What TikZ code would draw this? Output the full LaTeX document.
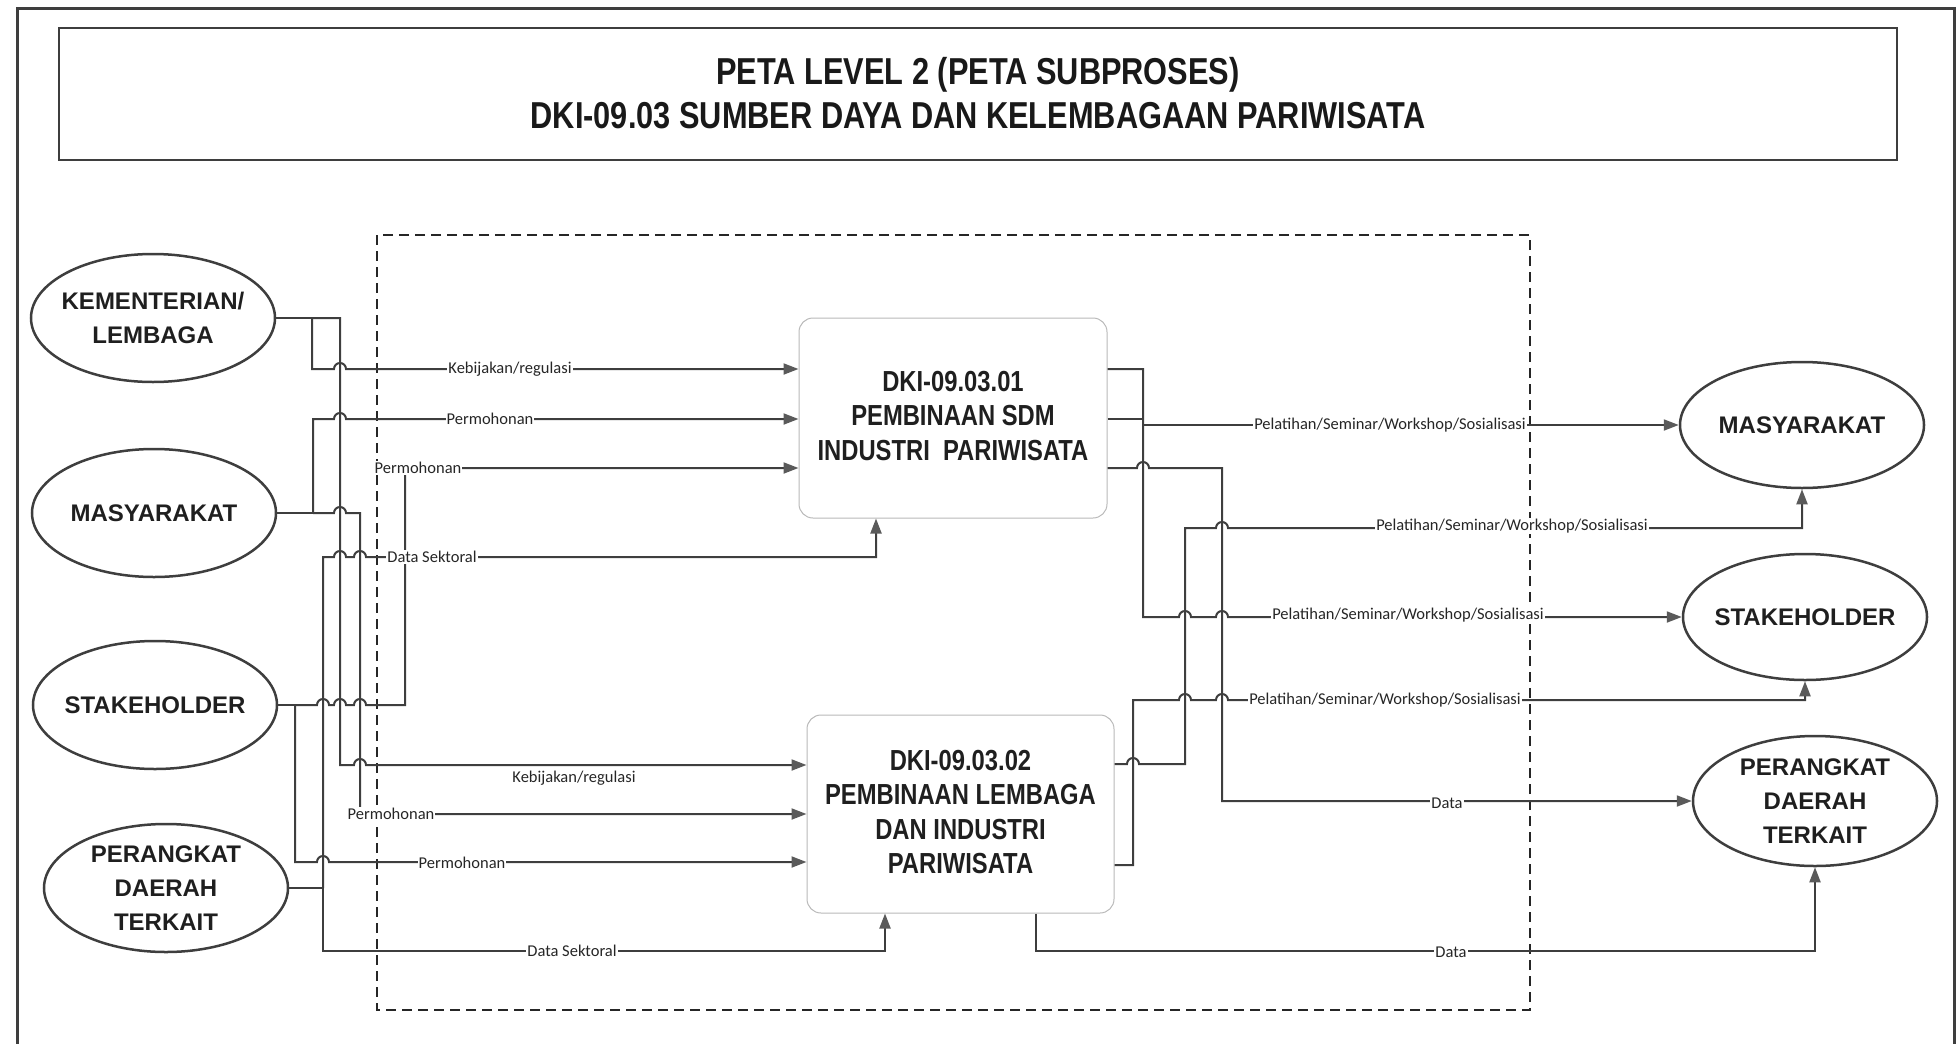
\documentclass[tikz,border=0pt]{standalone}
\usepackage{fontspec}
\setmainfont{Liberation Sans}
\newfontfamily\narrowfont[FakeStretch=0.82]{Liberation Sans}
\newfontfamily\labfont{Carlito}
\usetikzlibrary{shapes.geometric,arrows.meta}
\definecolor{lc}{HTML}{3E3E3E}
\definecolor{ac}{HTML}{5A5A5A}
\begin{document}
\begin{tikzpicture}[x=1pt,y=-1pt,
  conn/.style={line width=2pt,draw=lc},
  arr/.style={conn,-{Triangle[length=15pt,width=11pt,color=ac]}},
  ent/.style={ellipse,draw=lc,line width=2.5pt,minimum width=244pt,minimum height=128pt,inner sep=0pt},
  enttxt/.style={align=center,inner sep=0pt,font=\bfseries\fontsize{24}{34}\selectfont,text=black!88},
  proc/.style={draw=gray!55,line width=1pt,rounded corners=14pt,inner sep=0pt},
  proctxt/.style={align=center,inner sep=0pt,font=\narrowfont\bfseries\fontsize{29}{34.5}\selectfont,text=black!88},
  lab/.style={fill=white,inner sep=1pt,font=\labfont\fontsize{16.5}{18}\selectfont,text=black!85},
]
\useasboundingbox (0,0) rectangle (1957,1044);
% outer frame
\draw[line width=3pt,draw=lc] (17,1044) -- (17,8) -- (1954,8) -- (1954,1044);
% title
\node[draw=lc,line width=2pt,minimum width=1838pt,minimum height=132pt,inner sep=0pt] (tb) at (978,94) {};
\node[align=center,inner sep=0pt,font=\narrowfont\bfseries\fontsize{37.5}{44}\selectfont,text=black!90] (tt) at (978,93) {PETA LEVEL 2 (PETA SUBPROSES)\\DKI-09.03 SUMBER DAYA DAN KELEMBAGAAN PARIWISATA};
% dashed boundary
\draw[dashed,dash pattern=on 10pt off 6pt,line width=1.6pt,draw=black!85] (377,235) rectangle (1530,1010);

% left entities
\node[ent] (kl) at (153,318) {};
\node[enttxt] (klt) at (kl) {KEMENTERIAN/\\LEMBAGA};
\node[ent] (ms) at (154,513) {};
\node[enttxt] (mst) at (ms) {MASYARAKAT};
\node[ent] (st) at (155,705) {};
\node[enttxt] (stt) at (st) {STAKEHOLDER};
\node[ent] (pd) at (166,888) {};
\node[enttxt] (pdt) at (pd) {PERANGKAT\\DAERAH\\TERKAIT};
% right entities
\node[ent,minimum height=126pt] (mr) at (1802,425) {};
\node[enttxt] (mrt) at (mr) {MASYARAKAT};
\node[ent,minimum height=126pt] (sr) at (1805,617) {};
\node[enttxt] (srt) at (sr) {STAKEHOLDER};
\node[ent,minimum height=130pt] (pr) at (1815,801) {};
\node[enttxt] (prt) at (pr) {PERANGKAT\\DAERAH\\TERKAIT};
% processes
\node[proc,minimum width=308pt,minimum height=200pt] (p1) at (953,418) {};
\node[proctxt] (p1t) at (953,416) {DKI-09.03.01\\PEMBINAAN SDM\\INDUSTRI~~PARIWISATA};
\node[proc,minimum width=307pt,minimum height=198pt] (p2) at (960.5,814) {};
\node[proctxt] (p2t) at (960.5,812) {DKI-09.03.02\\PEMBINAAN LEMBAGA\\DAN INDUSTRI\\PARIWISATA};

% ---- left connectors
\coordinate (jk) at (312,318);
\draw[conn] (kl.east) -- (jk);
\draw[arr] (jk) -- (340,318) -- (340,765) -- (354,765) arc[start angle=180,end angle=360,radius=6] -- (p2.west |- 0,765);
\draw[arr] (jk) -- (312,369) -- (334,369) arc[start angle=180,end angle=360,radius=6] -- (p1.west |- 0,369);

\coordinate (jm) at (313,513);
\draw[conn] (ms.east) -- (jm);
\draw[arr] (jm) -- (334,513) arc[start angle=180,end angle=360,radius=6] -- (360,513) -- (360,814) -- (p2.west |- 0,814);
\draw[arr] (jm) -- (313,419) -- (334,419) arc[start angle=180,end angle=360,radius=6] -- (p1.west |- 0,419);

\coordinate (js) at (295,705);
\draw[conn] (st.east) -- (js);
\draw[arr] (js) -- (317,705) arc[start angle=180,end angle=360,radius=6] -- (334,705) arc[start angle=180,end angle=360,radius=6] -- (354,705) arc[start angle=180,end angle=360,radius=6] -- (405,705) -- (405,468) -- (p1.west |- 0,468);
\draw[arr] (js) -- (295,862) -- (317,862) arc[start angle=180,end angle=360,radius=6] -- (p2.west |- 0,862);

\coordinate (jp) at (323,888);
\draw[conn] (pd.east) -- (jp);
\draw[arr] (jp) -- (323,557) -- (334,557) arc[start angle=180,end angle=360,radius=6] -- (354,557) arc[start angle=180,end angle=360,radius=6] -- (876,557) -- (p1.south -| 876,0);
\draw[arr] (jp) -- (323,951) -- (885,951) -- (p2.south -| 885,0);

% ---- right connectors
\coordinate (ja) at (1143,419);
\draw[conn] (p1.east |- 0,419) -- (ja);
\draw[arr] (ja) -- (1143,425) -- (mr.west);
\draw[arr] (p1.east |- 0,369) -- (1143,369) -- (1143,617) -- (1179,617) arc[start angle=180,end angle=360,radius=6] -- (1216,617) arc[start angle=180,end angle=360,radius=6] -- (sr.west);
\draw[arr] (p1.east |- 0,468) -- (1137,468) arc[start angle=180,end angle=360,radius=6] -- (1222,468) -- (1222,801) -- (pr.west);
\draw[arr] (p2.east |- 0,764) -- (1127,764) arc[start angle=180,end angle=360,radius=6] -- (1185,764) -- (1185,528) -- (1216,528) arc[start angle=180,end angle=360,radius=6] -- (1802,528) -- (mr.south);
\draw[arr] (p2.east |- 0,865) -- (1133,865) -- (1133,700) -- (1179,700) arc[start angle=180,end angle=360,radius=6] -- (1216,700) arc[start angle=180,end angle=360,radius=6] -- (1805,700) -- (sr.south);
\draw[arr] (p2.south -| 1036,0) -- (1036,951) -- (1815,951) -- (pr.south);

% ---- labels
\node[lab] (l1) at (510,369) {Kebijakan/regulasi};
\node[lab] (l2) at (490,419) {Permohonan};
\node[lab] (l3) at (418,468) {Permohonan};
\node[lab] (l4) at (432,557) {Data Sektoral};
\node[lab,fill=none] (l5) at (574,778) {Kebijakan/regulasi};
\node[lab] (l6) at (391,814) {Permohonan};
\node[lab] (l7) at (462,863) {Permohonan};
\node[lab] (l8) at (572,951) {Data Sektoral};
\node[lab] (r1) at (1390,425) {Pelatihan/Seminar/Workshop/Sosialisasi};
\node[lab] (r2) at (1512,526) {Pelatihan/Seminar/Workshop/Sosialisasi};
\node[lab] (r3) at (1408,615) {Pelatihan/Seminar/Workshop/Sosialisasi};
\node[lab] (r4) at (1385,700) {Pelatihan/Seminar/Workshop/Sosialisasi};
\node[lab] (r5) at (1447,803) {Data};
\node[lab] (r6) at (1451,952) {Data};
\end{tikzpicture}
\end{document}
